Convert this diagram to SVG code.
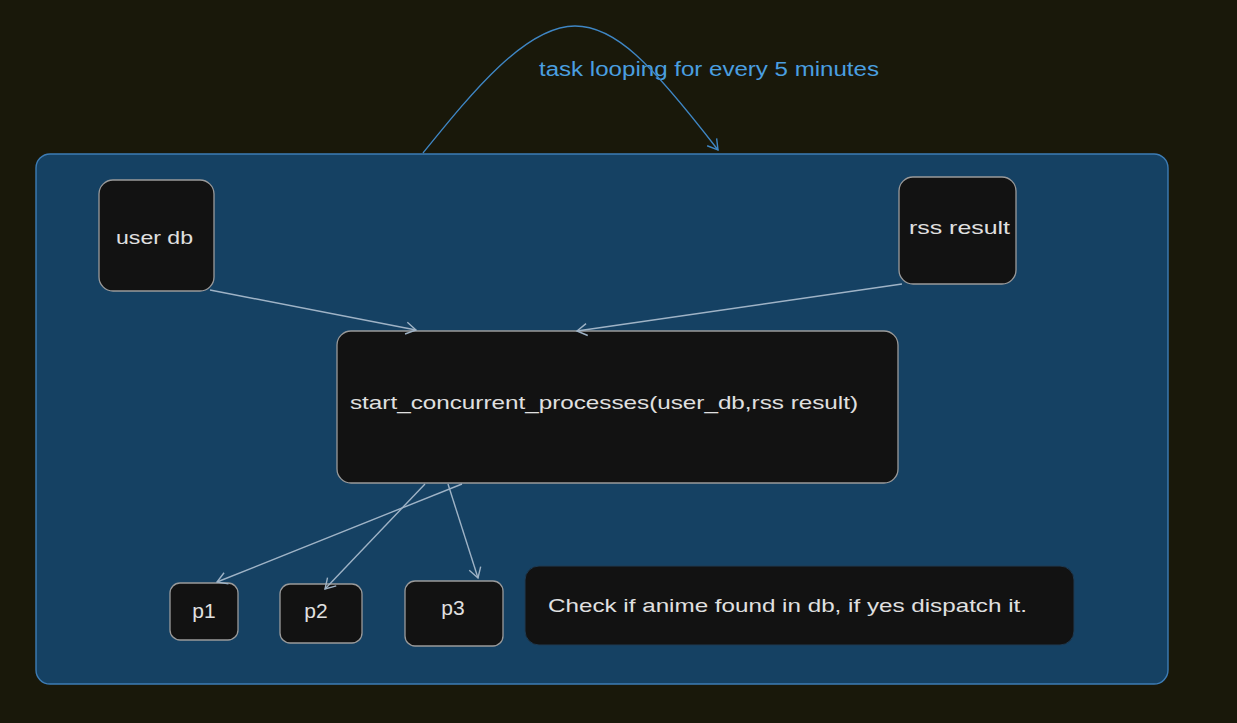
<svg xmlns="http://www.w3.org/2000/svg" width="1237" height="723" viewBox="0 0 1237 723">
<defs>
<style>
.node rect{fill:#121212;stroke:#9a9a9a;stroke-width:1.3}
.t{font-family:"Liberation Sans","DejaVu Sans",sans-serif;font-size:19px;fill:#e0e0e0}
.p{font-size:21px}
.conn{fill:none;stroke:#9fb3c6;stroke-width:1.4}
.loop{fill:none;stroke:#3f86c4;stroke-width:1.4}
</style>
<marker id="ah" markerWidth="14" markerHeight="14" refX="11" refY="7" orient="auto" markerUnits="userSpaceOnUse">
<path d="M1,1 L11,7 L1,13" fill="none" stroke="#9fb3c6" stroke-width="1.4"/>
</marker>
<marker id="ahb" markerWidth="14" markerHeight="14" refX="11" refY="7" orient="auto" markerUnits="userSpaceOnUse">
<path d="M1,1 L11,7 L1,13" fill="none" stroke="#3f86c4" stroke-width="1.4"/>
</marker>
</defs>
<rect width="1237" height="723" fill="#19180a"/>
<g id="container">
<rect x="36" y="154" width="1132" height="530" rx="14" fill="#154163" stroke="#3d7cb5" stroke-width="1.4"/>
</g>
<g id="loop-label">
<text x="539" y="76" font-family="Liberation Sans, sans-serif" font-size="20" fill="#4a9fe0" textLength="340" lengthAdjust="spacingAndGlyphs">task looping for every 5 minutes</text>
</g>
<g id="user-db" class="node">
<rect x="99" y="180" width="115" height="111" rx="14"/>
<text class="t" x="116" y="244" textLength="77" lengthAdjust="spacingAndGlyphs">user db</text>
</g>
<g id="rss-result" class="node">
<rect x="899" y="177" width="117" height="107" rx="14"/>
<text class="t" x="909" y="234" textLength="101" lengthAdjust="spacingAndGlyphs">rss result</text>
</g>
<g id="start" class="node">
<rect x="337" y="331" width="561" height="152" rx="14"/>
<text class="t" x="350" y="409" textLength="508" lengthAdjust="spacingAndGlyphs">start_concurrent_processes(user_db,rss result)</text>
</g>
<g id="p1" class="node">
<rect x="170" y="583" width="68" height="57" rx="10"/>
<text class="t p" x="204" y="618" text-anchor="middle">p1</text>
</g>
<g id="p2" class="node">
<rect x="280" y="584" width="82" height="59" rx="10"/>
<text class="t p" x="316" y="618" text-anchor="middle">p2</text>
</g>
<g id="p3" class="node">
<rect x="405" y="581" width="98" height="65" rx="10"/>
<text class="t p" x="453" y="615" text-anchor="middle">p3</text>
</g>
<g id="note">
<rect x="525" y="566" width="549" height="79" rx="14" fill="#121212" stroke="#1e3a52" stroke-width="1"/>
<text class="t" x="548" y="612" textLength="479" lengthAdjust="spacingAndGlyphs">Check if anime found in db, if yes dispatch it.</text>
</g>
<g id="connectors">
<path class="loop" d="M423,153 C470,95 525,26 575,26 C615,26 650,62 718,150" marker-end="url(#ahb)"/>
<path class="conn" d="M210,290 L416,330" marker-end="url(#ah)"/>
<path class="conn" d="M902,284 L577,331" marker-end="url(#ah)"/>
<path class="conn" d="M462,484 L217,582" marker-end="url(#ah)"/>
<path class="conn" d="M425,484 L325,589" marker-end="url(#ah)"/>
<path class="conn" d="M448,484 L478,578" marker-end="url(#ah)"/>
</g>
</svg>
